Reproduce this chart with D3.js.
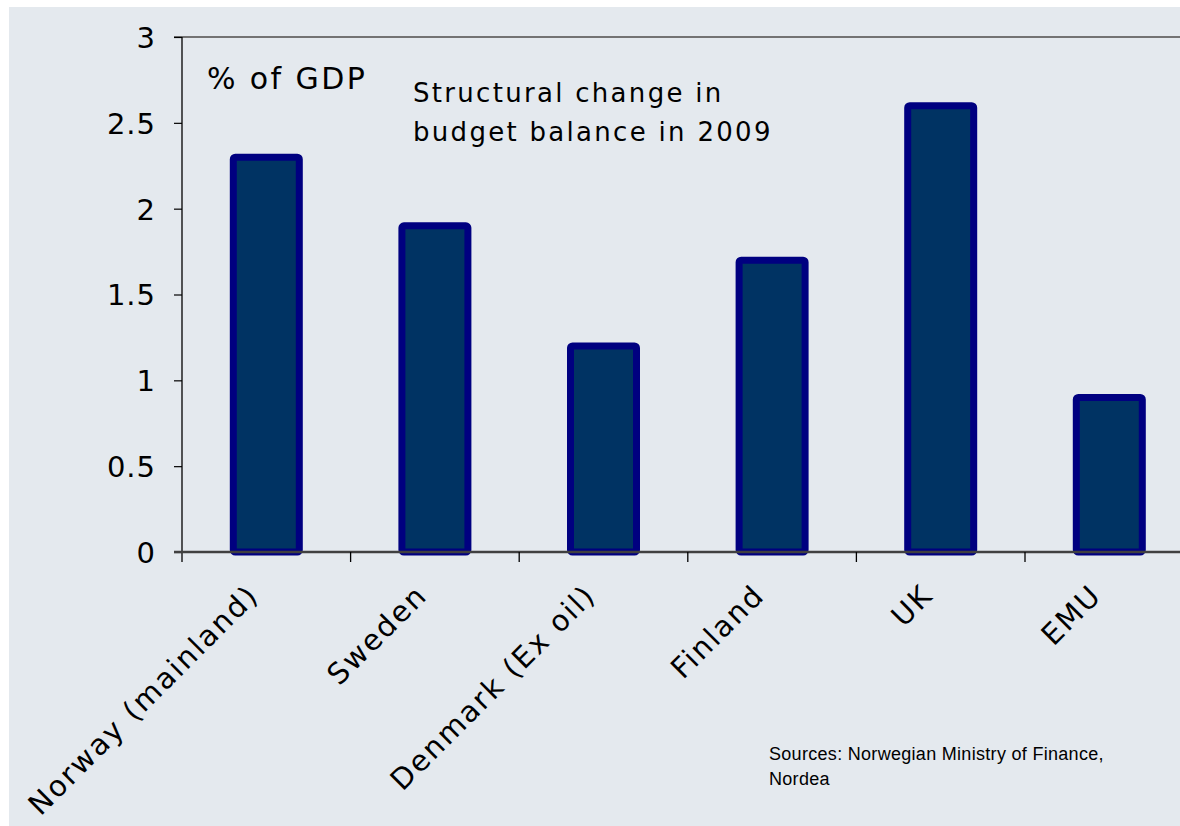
<!DOCTYPE html>
<html><head><meta charset="utf-8">
<script src="https://cdn.jsdelivr.net/npm/d3@7"></script>
<style>
html,body{margin:0;padding:0;background:#fff;}
svg{display:block;}
text{font-family:"DejaVu Sans",Verdana,sans-serif;fill:#000;}
</style></head>
<body>
<svg id="c" width="1180" height="826"></svg>
<script>
const categories = ["Norway (mainland)", "Sweden", "Denmark (Ex oil)", "Finland", "UK", "EMU"];
const values = [2.3, 1.9, 1.2, 1.7, 2.6, 0.9];
const yTicks = [0, 0.5, 1, 1.5, 2, 2.5, 3];
const yTickLabels = ["0", "0.5", "1", "1.5", "2", "2.5", "3"];

(function () {
const svg = d3.select("#c");
svg.append("rect").attr("x", 9).attr("y", 7).attr("width", 1171).attr("height", 819).attr("fill", "#e4e9ee");

const pLeft = 182, pTop = 37, pBottom = 552, bandW = 168.6;
const x = d3.scaleBand().domain(categories).range([pLeft, pLeft + bandW * categories.length]).padding(0);
const y = d3.scaleLinear().domain([0, 3]).range([pBottom, pTop]);

// top border line
svg.append("line").attr("x1", 174).attr("x2", 1180).attr("y1", y(3)).attr("y2", y(3))
  .attr("stroke", "#737373").attr("stroke-width", 2);

// y axis
const yAxis = d3.axisLeft(y).tickValues(yTicks).tickSize(8)
  .tickFormat((d, i) => yTickLabels[i]);
const gy = svg.append("g").attr("transform", `translate(${pLeft},0)`).call(yAxis);
gy.select(".domain").remove();
gy.selectAll(".tick line").attr("stroke", "#000").attr("stroke-width", 1.2);
gy.selectAll(".tick text").attr("x", -26).attr("dy", "0.36em").attr("fill", "#000")
  .style("font-size", "29px").style("letter-spacing", "1px").style("font-family", "'DejaVu Sans',sans-serif");
svg.append("line").attr("x1", pLeft).attr("x2", pLeft).attr("y1", pTop).attr("y2", pBottom + 10)
  .attr("stroke", "#000").attr("stroke-width", 1.3);

// bars
const barW = 66;
svg.append("g").selectAll("rect").data(categories).join("rect")
  .attr("x", d => x(d) + x.bandwidth() / 2 - barW / 2)
  .attr("y", (d, i) => y(values[i]))
  .attr("width", barW)
  .attr("height", (d, i) => y(0) - y(values[i]))
  .attr("rx", 2)
  .attr("fill", "#003363").attr("stroke", "#000080").attr("stroke-width", 7);

// x axis
svg.append("line").attr("x1", 174).attr("x2", 1180).attr("y1", pBottom).attr("y2", pBottom)
  .attr("stroke", "#404040").attr("stroke-width", 2.5);
svg.append("g").selectAll("line").data(categories.slice(1)).join("line")
  .attr("x1", d => x(d)).attr("x2", d => x(d))
  .attr("y1", pBottom).attr("y2", pBottom + 10)
  .attr("stroke", "#000").attr("stroke-width", 1.3);

// category labels
svg.append("g").selectAll("text").data(categories).join("text")
  .attr("transform", d => `translate(${x(d) + x.bandwidth() / 2 - 6},${597}) rotate(-45)`)
  .attr("text-anchor", "end")
  .style("font-size", "29px").style("letter-spacing", "2px")
  .text(d => d);

// annotations
svg.append("text").attr("x", 207).attr("y", 89).style("font-size", "30px").style("letter-spacing", "2.4px").text("% of GDP");
svg.append("text").attr("x", 413).attr("y", 102).style("font-size", "26px").style("letter-spacing", "2.3px").text("Structural change in");
svg.append("text").attr("x", 413).attr("y", 141).style("font-size", "26px").style("letter-spacing", "2.3px").text("budget balance in 2009");

svg.append("text").attr("x", 769).attr("y", 760).style("font-family", "'Liberation Sans',Arial,sans-serif").style("font-size", "18px").style("letter-spacing", "0.3px").text("Sources: Norwegian Ministry of Finance,");
svg.append("text").attr("x", 769).attr("y", 785).style("font-family", "'Liberation Sans',Arial,sans-serif").style("font-size", "18px").style("letter-spacing", "0.3px").text("Nordea");
})();
</script>
</body></html>
